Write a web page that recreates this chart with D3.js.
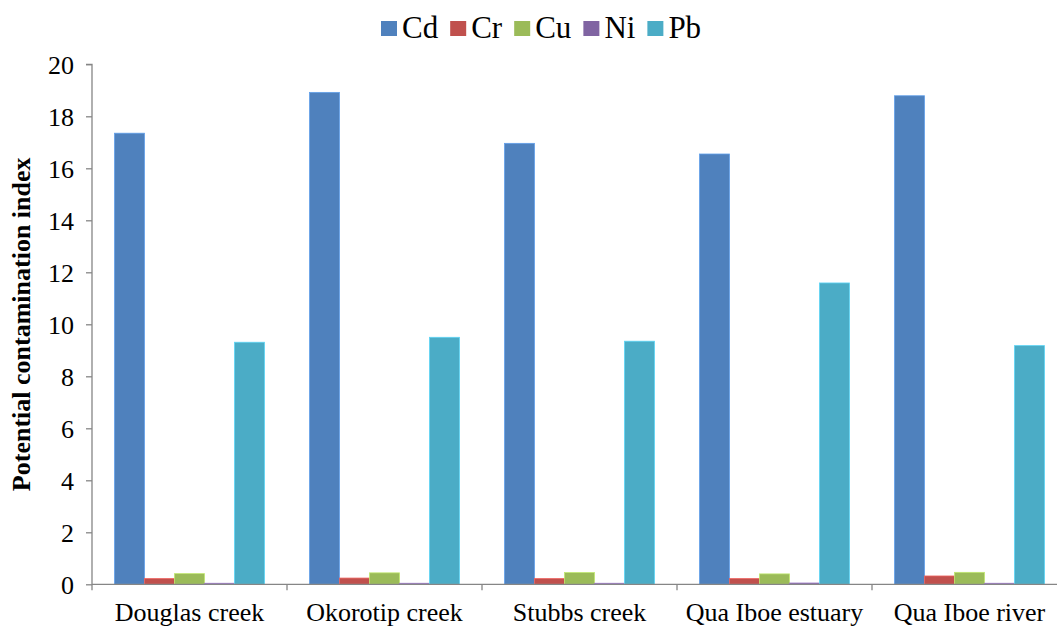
<!DOCTYPE html>
<html><head><meta charset="utf-8">
<script src="https://cdn.jsdelivr.net/npm/d3@7"></script>
<style>body{margin:0;background:#fff}svg{display:block}</style>
</head><body><svg id="c" width="1057" height="628"></svg>
<script>
const categories = ["Douglas creek","Okorotip creek","Stubbs creek","Qua Iboe estuary","Qua Iboe river"];
const seriesNames = ["Cd","Cr","Cu","Ni","Pb"];
const seriesColors = ["#4F81BD","#C0504D","#9BBB59","#8064A2","#4BACC6"];
const Cd = [17.35,18.92,16.96,16.55,18.79];
const Cr = [0.22,0.24,0.22,0.22,0.32];
const Cu = [0.41,0.44,0.45,0.40,0.46];
const Ni = [0.04,0.04,0.04,0.05,0.04];
const Pb = [9.31,9.50,9.35,11.59,9.18];
const yTicks = [0,2,4,6,8,10,12,14,16,18,20];
const values = [Cd,Cr,Cu,Ni,Pb];

(function(){
const FONT = "'Liberation Serif', 'Times New Roman', Times, 'DejaVu Serif', serif";
const svg = d3.select("#c").style("font-family", FONT);
const pLeft = 92, pRight = 1067, pTop = 64.3, pBottom = 584.3;
const x0 = d3.scaleBand().domain(categories).range([pLeft,pRight]).paddingInner(0).paddingOuter(0);
const x1 = d3.scaleBand().domain(seriesNames).range([22.5, x0.bandwidth()-22.5]);
const y = d3.scaleLinear().domain([0,20]).range([pBottom,pTop]);
const axisColor = "#868686";

// bars
categories.forEach((c,i)=>{
  seriesNames.forEach((s,j)=>{
    svg.append("rect")
      .attr("x", x0(c)+x1(s))
      .attr("y", y(values[j][i]))
      .attr("width", x1.bandwidth())
      .attr("height", y(0)-y(values[j][i]))
      .attr("fill", seriesColors[j])
      .attr("stroke", d3.color(seriesColors[j]).brighter(0.6))
      .attr("stroke-width", 0.8);
  });
});

// y axis
const ya = svg.append("g").attr("transform",`translate(${pLeft},0)`)
  .call(d3.axisLeft(y).tickValues(yTicks).tickSize(6).tickPadding(12));
ya.attr("font-family", null).attr("font-size", null);
ya.select(".domain").attr("stroke",axisColor).attr("stroke-width",1.3).attr("d",`M-6,${pTop}H0V${pBottom}`);
ya.selectAll(".tick line").attr("stroke",axisColor).attr("stroke-width",1.3);
ya.selectAll(".tick text").style("font-size","26px").style("font-family",FONT).attr("fill","#000").attr("dy","0.34em");

// x axis
svg.append("line").attr("x1",pLeft).attr("x2",1057).attr("y1",pBottom).attr("y2",pBottom)
  .attr("stroke",axisColor).attr("stroke-width",1.3);
categories.forEach((c,i)=>{
  svg.append("line").attr("x1",x0(c)).attr("x2",x0(c)).attr("y1",pBottom).attr("y2",pBottom+6)
    .attr("stroke",axisColor).attr("stroke-width",1.3);
  let cx = x0(c)+x0.bandwidth()/2;
  const t = svg.append("text").attr("x",cx).attr("y",621).attr("text-anchor","middle")
    .style("font-size","26px").style("font-family",FONT).text(c);
  const w = t.node().getComputedTextLength();
  if (cx + w/2 > 1046) t.attr("x", 1046 - w/2);
});

// y title
svg.append("text").attr("transform",`translate(30,${(pTop+pBottom)/2}) rotate(-90)`)
  .attr("text-anchor","middle").style("font-size","26px").style("font-weight","bold").style("font-family",FONT)
  .text("Potential contamination index");

// legend
const lg = svg.append("g");
let lx = 381;
seriesNames.forEach((s,j)=>{
  lg.append("rect").attr("x",lx).attr("y",21).attr("width",16).attr("height",15).attr("fill",seriesColors[j]);
  const t = lg.append("text").attr("x",lx+21).attr("y",38).style("font-size","31px").style("font-family",FONT).text(s);
  lx += 21 + t.node().getComputedTextLength() + 12;
});
})();
</script></body></html>
